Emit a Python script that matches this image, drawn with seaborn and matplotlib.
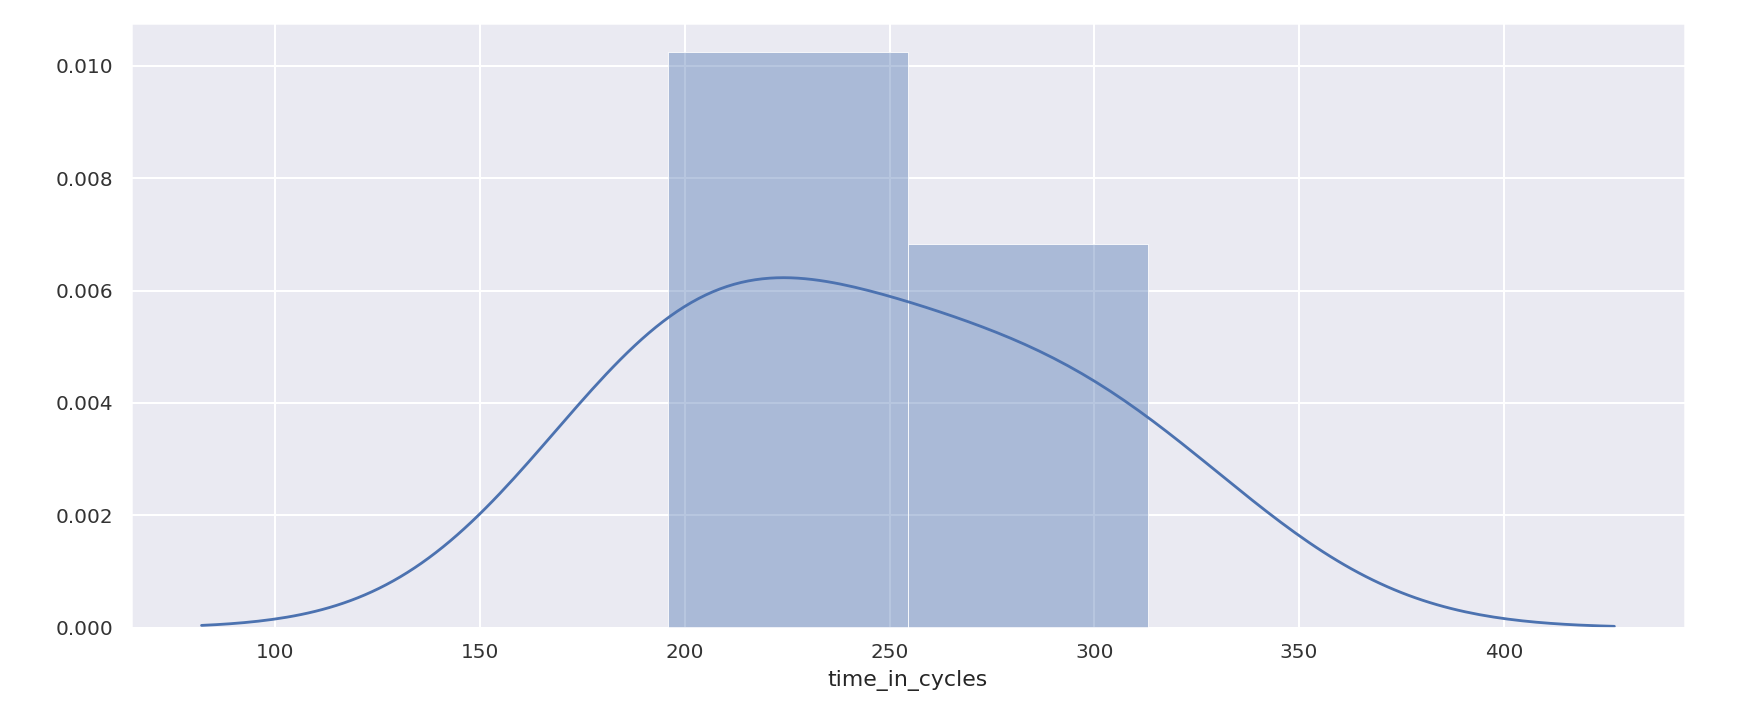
import pandas as pd
import numpy as np
import matplotlib.pyplot as plt
import seaborn as sns

time_in_cycles = [196, 200, 240, 275, 313]
n_bins = 2

df = pd.DataFrame({'time_in_cycles': time_in_cycles})

sns.set_theme(style='darkgrid')
plt.rcParams['font.family'] = ['DejaVu Sans']

dpi = 144
fig, ax = plt.subplots(figsize=(1762 / dpi, 728 / dpi), dpi=dpi)
fig.subplots_adjust(left=0.0743, right=0.9563, top=0.9688, bottom=0.1378)

c0 = sns.color_palette('deep')[0]
sns.histplot(data=df, x='time_in_cycles', bins=n_bins, stat='density',
             color=c0, alpha=0.4, edgecolor='white', linewidth=0.4, ax=ax)
sns.kdeplot(data=df, x='time_in_cycles', bw_adjust=1.05, cut=3,
            color=c0, linewidth=1.4, ax=ax)

ax.set_ylabel('')
ax.set_xlabel('time_in_cycles', fontsize=11, color='.15')
ax.tick_params(axis='both', labelsize=10, length=0, labelcolor='.2')
ax.tick_params(axis='x', pad=7.5)
ax.tick_params(axis='y', pad=9)
ax.grid(True, color='white', linewidth=1)

fig.savefig('out.png', dpi=dpi)
